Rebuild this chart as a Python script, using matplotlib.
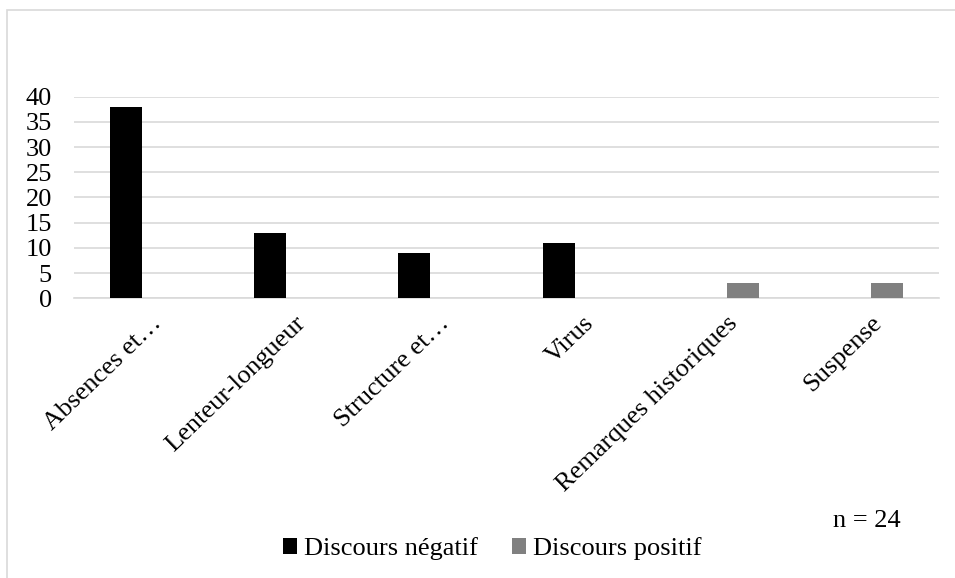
import matplotlib
matplotlib.use("Agg")
import matplotlib.pyplot as plt
import numpy as np
from matplotlib.patches import Rectangle

categories = ["Absences et…", "Lenteur-longueur", "Structure et…", "Virus",
              "Remarques historiques", "Suspense"]
negatif = [38, 13, 9, 11, 0, 0]
positif = [0, 0, 0, 0, 3, 3]
yticks = [0, 5, 10, 15, 20, 25, 30, 35, 40]

plt.rcParams['font.family'] = ['Liberation Serif', 'DejaVu Serif']
FS = 19

fig = plt.figure(figsize=(9.55, 5.78), dpi=100)
W, H = 955, 578
ax = fig.add_axes([74 / W, 1 - 298.3 / H, (939 - 74) / W, (298.3 - 96.7) / H])

x = np.arange(len(categories))
bw = 32 / 144.2
off = 20 / 144.2
ax.bar(x - off, negatif, bw, color="black", label="Discours négatif", zorder=3)
ax.bar(x + off, positif, bw, color="#808080", label="Discours positif", zorder=3)

ax.set_xlim(-0.5, len(categories) - 0.5)
ax.set_ylim(0, 40)
ax.set_yticks(yticks)
ax.set_yticklabels([str(v) for v in yticks], fontsize=FS)
ax.yaxis.grid(True, color="#d9d9d9", linewidth=1.2, zorder=0)
ax.set_axisbelow(True)
for s in ["top", "right", "left"]:
    ax.spines[s].set_visible(False)
ax.spines["bottom"].set_color("#d9d9d9")
ax.spines["bottom"].set_linewidth(1.2)
ax.tick_params(axis="both", length=0)
ax.tick_params(axis="y", pad=16)
ax.set_xticks(x + 0.03)
ax.set_xticklabels(categories, rotation=44, ha="right", rotation_mode="anchor", fontsize=FS)
ax.tick_params(axis="x", pad=10)

# outer frame
fig.patches.append(Rectangle((7 / W, -0.1), 1.2, 1 - 10 / H + 0.1, transform=fig.transFigure,
                             fill=False, edgecolor="#d9d9d9", linewidth=1.2))

fig.text(867 / W, 1 - 521 / H, "n = 24", fontsize=FS, ha="center", va="center")
leg = fig.legend(loc="center", bbox_to_anchor=(492 / W, 1 - 549 / H), ncol=2, frameon=False,
                 fontsize=FS, handlelength=0.55, handleheight=0.55, handletextpad=0.25,
                 columnspacing=1.3, borderpad=0)

fig.savefig("out.png", dpi=100)
